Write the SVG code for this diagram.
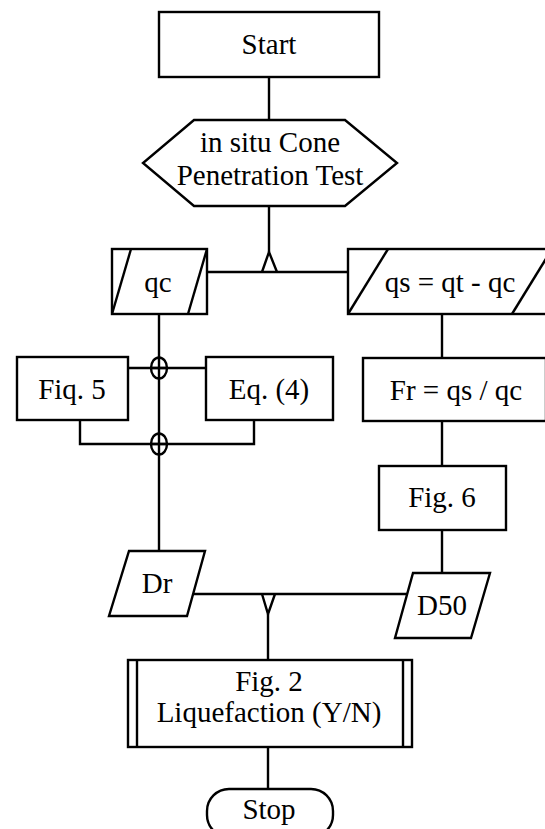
<svg xmlns="http://www.w3.org/2000/svg" width="545" height="829" viewBox="0 0 545 829">
<style>
.s{fill:#fff;stroke:#000;stroke-width:2.4}
.l{fill:none;stroke:#000;stroke-width:2.4}
.t{font-family:'Liberation Serif','Times New Roman',serif;font-size:29px;fill:#000;text-anchor:middle}
</style>
<rect width="545" height="829" fill="#fff"/>
<g id="connectors">
<line class="l" x1="269" y1="77" x2="269" y2="120"/>
<line class="l" x1="269" y1="206" x2="269" y2="252"/>
<line class="l" x1="207" y1="272" x2="348" y2="272"/>
<polyline class="l" points="262,272 269,252 277,272"/>
<line class="l" x1="159" y1="314" x2="159" y2="454"/>
<line class="l" x1="128" y1="368" x2="206" y2="368"/>
<ellipse class="l" cx="159" cy="368" rx="8" ry="10.5"/>
<polyline class="l" points="80,420 80,444 254,444 254,420"/>
<ellipse class="l" cx="159" cy="444" rx="8" ry="10.5"/>
<line class="l" x1="159" y1="454" x2="159" y2="551"/>
<line class="l" x1="442" y1="314" x2="442" y2="358"/>
<line class="l" x1="442" y1="420" x2="442" y2="466"/>
<line class="l" x1="442" y1="530" x2="442" y2="573"/>
<line class="l" x1="193" y1="594" x2="409" y2="594"/>
<polyline class="l" points="262,594 268,614 275,594"/>
<line class="l" x1="268" y1="614" x2="268" y2="660"/>
<line class="l" x1="268" y1="747" x2="268" y2="789"/>
<line class="l" x1="151" y1="368" x2="167" y2="368"/>
<line class="l" x1="151" y1="444" x2="167" y2="444"/>
</g>
<g id="start">
<rect class="s" x="159" y="12" width="220" height="65"/>
<text class="t" x="269" y="54">Start</text>
</g>
<g id="cpt">
<polygon class="s" points="194,120 345,120 397,163 345,206 194,206 143,163"/>
<text class="t" x="270" y="152">in situ Cone</text>
<text class="t" x="270" y="185">Penetration Test</text>
</g>
<g id="qc">
<rect class="s" x="112" y="249" width="95" height="65"/>
<polyline class="l" points="112,314 131,249"/>
<polyline class="l" points="188,314 207,249"/>
<text class="t" x="158" y="292">qc</text>
</g>
<g id="qs">
<rect class="s" x="348" y="249" width="210" height="65"/>
<polyline class="l" points="348,314 388,249"/>
<polyline class="l" points="512,314 552,249"/>
<text class="t" x="450" y="292">qs = qt - qc</text>
</g>
<g id="fig5">
<rect class="s" x="17" y="357" width="111" height="63"/>
<text class="t" x="72" y="399">Fiq. 5</text>
</g>
<g id="eq4">
<rect class="s" x="206" y="357" width="127" height="63"/>
<text class="t" x="269" y="399">Eq. (4)</text>
</g>
<g id="fr">
<rect class="s" x="363" y="358" width="183" height="63"/>
<text class="t" x="456" y="400">Fr = qs / qc</text>
</g>
<g id="fig6">
<rect class="s" x="379" y="466" width="127" height="64"/>
<text class="t" x="442" y="507">Fig. 6</text>
</g>
<g id="dr">
<polygon class="s" points="129,551 205,551 187,616 109,616"/>
<text class="t" x="157" y="593">Dr</text>
</g>
<g id="d50">
<polygon class="s" points="413,573 490,573 471,638 395,638"/>
<text class="t" x="442" y="615">D50</text>
</g>
<g id="fig2">
<rect class="s" x="128" y="660" width="284" height="87"/>
<line class="l" x1="137" y1="660" x2="137" y2="747"/>
<line class="l" x1="403" y1="660" x2="403" y2="747"/>
<text class="t" x="269" y="691">Fig. 2</text>
<text class="t" x="269" y="722">Liquefaction (Y/N)</text>
</g>
<g id="stop">
<rect class="s" x="207" y="789" width="126" height="48" rx="22" ry="22"/>
<text class="t" x="269" y="819">Stop</text>
</g>
</svg>
